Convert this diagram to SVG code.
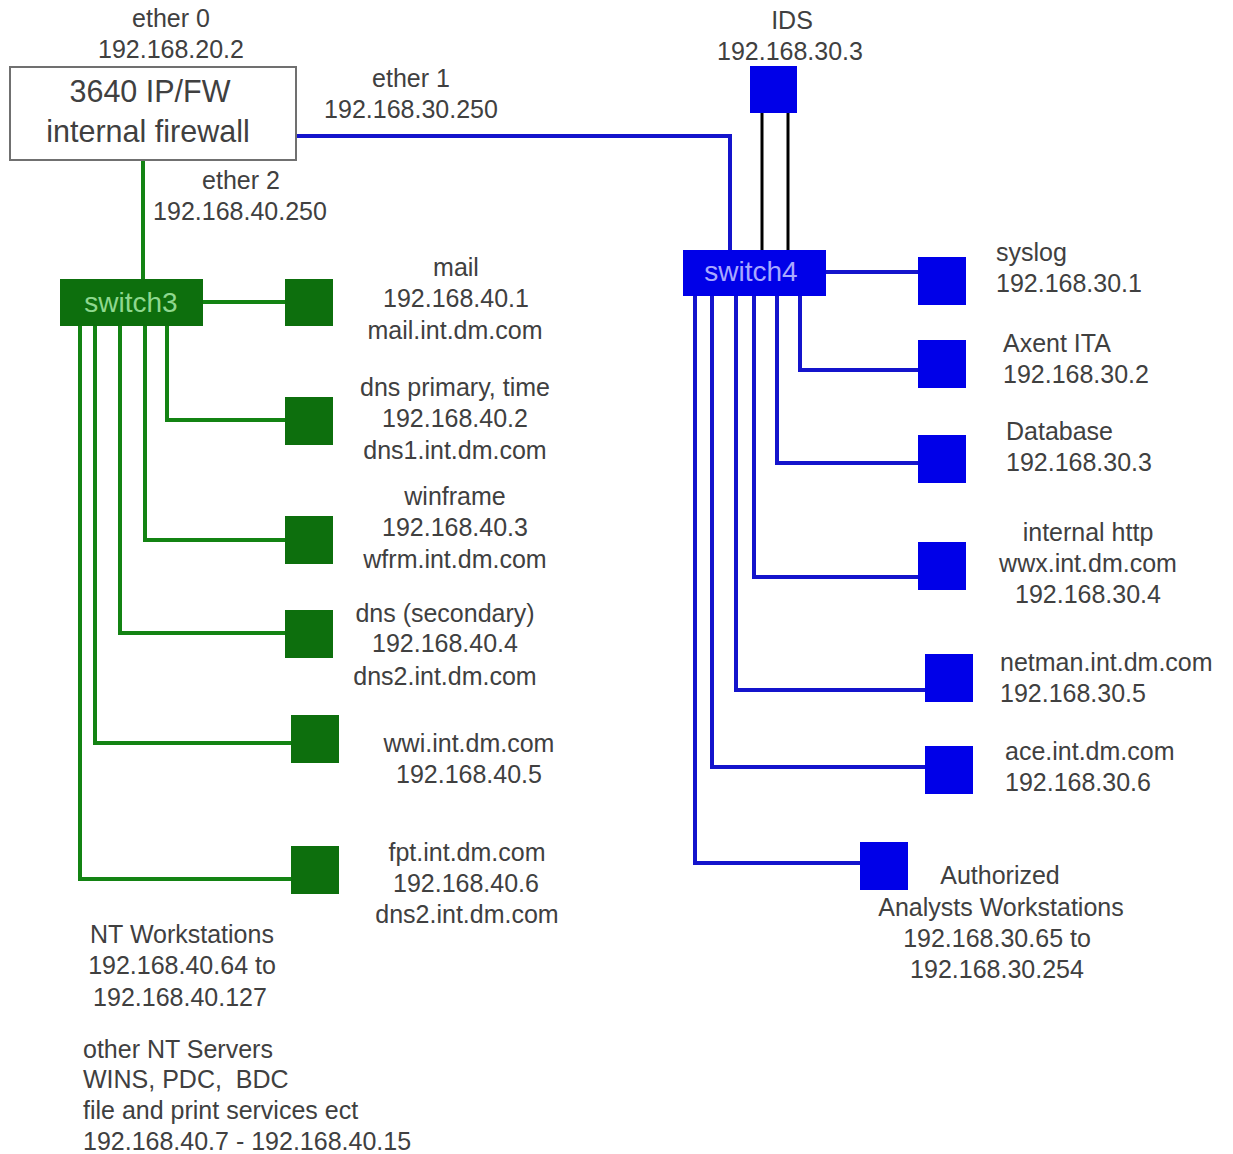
<svg xmlns="http://www.w3.org/2000/svg" width="1233" height="1154" viewBox="0 0 1233 1154">
<style>
  .t{font-family:"Liberation Sans",Arial,sans-serif;font-size:25px;fill:#404040}
  .c{text-anchor:middle}
  .fw{font-family:"Liberation Sans",Arial,sans-serif;font-size:30.5px;fill:#404040;text-anchor:middle}
  .gl{stroke:#138313;stroke-width:4;fill:none}
  .bl{stroke:#1414cc;stroke-width:4;fill:none}
  .kl{stroke:#000;stroke-width:3;fill:none}
  .gn{fill:#0d6f0d}
  .bn{fill:#0000e8}
  .sw{font-family:"Liberation Sans",Arial,sans-serif;font-size:28px;text-anchor:middle}
</style>
<rect width="1233" height="1154" fill="#fff"/>
<g id="connectors">
  <path class="bl" d="M291 136 H730 V252"/>
  <path class="gl" d="M143 160 V280"/>
  <path class="gl" d="M203 302 H286"/>
  <path class="gl" d="M167 326 V420 H286"/>
  <path class="gl" d="M145 326 V540 H286"/>
  <path class="gl" d="M120 326 V633 H286"/>
  <path class="gl" d="M95 326 V743 H292"/>
  <path class="gl" d="M80 326 V879 H292"/>
  <path class="kl" d="M762 112 V251"/>
  <path class="kl" d="M788 112 V251"/>
  <path class="bl" d="M826 272 H919"/>
  <path class="bl" d="M800 296 V370 H919"/>
  <path class="bl" d="M777 296 V463 H919"/>
  <path class="bl" d="M754 296 V577 H919"/>
  <path class="bl" d="M736 296 V690 H926"/>
  <path class="bl" d="M712 296 V767 H926"/>
  <path class="bl" d="M695 296 V863 H861"/>
</g>
<g id="firewall">
  <rect x="10" y="67" width="286" height="93" fill="#fff" stroke="#707070" stroke-width="2"/>
  <text class="fw" x="150" y="102">3640 IP/FW</text>
  <text class="fw" x="148" y="142">internal firewall</text>
  <text class="t c" x="171" y="27">ether 0</text>
  <text class="t c" x="171" y="58">192.168.20.2</text>
  <text class="t c" x="411" y="87">ether 1</text>
  <text class="t c" x="411" y="118">192.168.30.250</text>
  <text class="t c" x="241" y="189">ether 2</text>
  <text class="t c" x="240" y="220">192.168.40.250</text>
</g>
<g id="switch3">
  <rect class="gn" x="60" y="279" width="143" height="47"/>
  <text class="sw" x="131" y="312" fill="#8fd88f">switch3</text>
</g>
<g id="mail">
  <rect class="gn" x="285" y="279" width="48" height="47"/>
  <text class="t c" x="456" y="276">mail</text>
  <text class="t c" x="456" y="307">192.168.40.1</text>
  <text class="t c" x="455" y="339">mail.int.dm.com</text>
</g>
<g id="dns1">
  <rect class="gn" x="285" y="397" width="48" height="48"/>
  <text class="t c" x="455" y="396">dns primary, time</text>
  <text class="t c" x="455" y="427">192.168.40.2</text>
  <text class="t c" x="455" y="459">dns1.int.dm.com</text>
</g>
<g id="winframe">
  <rect class="gn" x="285" y="516" width="48" height="48"/>
  <text class="t c" x="455" y="505">winframe</text>
  <text class="t c" x="455" y="536">192.168.40.3</text>
  <text class="t c" x="455" y="568">wfrm.int.dm.com</text>
</g>
<g id="dns2">
  <rect class="gn" x="285" y="610" width="48" height="48"/>
  <text class="t c" x="445" y="622">dns (secondary)</text>
  <text class="t c" x="445" y="652">192.168.40.4</text>
  <text class="t c" x="445" y="685">dns2.int.dm.com</text>
</g>
<g id="wwi">
  <rect class="gn" x="291" y="715" width="48" height="48"/>
  <text class="t c" x="469" y="752">wwi.int.dm.com</text>
  <text class="t c" x="469" y="783">192.168.40.5</text>
</g>
<g id="fpt">
  <rect class="gn" x="291" y="846" width="48" height="48"/>
  <text class="t c" x="467" y="861">fpt.int.dm.com</text>
  <text class="t c" x="466" y="892">192.168.40.6</text>
  <text class="t c" x="467" y="923">dns2.int.dm.com</text>
</g>
<g id="nt-workstations">
  <text class="t c" x="182" y="943">NT Workstations</text>
  <text class="t c" x="182" y="974">192.168.40.64 to</text>
  <text class="t c" x="180" y="1006">192.168.40.127</text>
</g>
<g id="nt-servers">
  <text class="t" x="83" y="1058">other NT Servers</text>
  <text class="t" x="83" y="1088" xml:space="preserve">WINS, PDC,  BDC</text>
  <text class="t" x="83" y="1119">file and print services ect</text>
  <text class="t" x="83" y="1150">192.168.40.7 - 192.168.40.15</text>
</g>
<g id="ids">
  <rect class="bn" x="750" y="66" width="47" height="47"/>
  <text class="t c" x="792" y="29">IDS</text>
  <text class="t c" x="790" y="60">192.168.30.3</text>
</g>
<g id="switch4">
  <rect class="bn" x="683" y="250" width="143" height="46"/>
  <text class="sw" x="751" y="281" fill="#a8a8ff">switch4</text>
</g>
<g id="syslog">
  <rect class="bn" x="918" y="257" width="48" height="48"/>
  <text class="t" x="996" y="261">syslog</text>
  <text class="t" x="996" y="292">192.168.30.1</text>
</g>
<g id="axent">
  <rect class="bn" x="918" y="340" width="48" height="48"/>
  <text class="t" x="1003" y="352">Axent ITA</text>
  <text class="t" x="1003" y="383">192.168.30.2</text>
</g>
<g id="database">
  <rect class="bn" x="918" y="435" width="48" height="48"/>
  <text class="t" x="1006" y="440">Database</text>
  <text class="t" x="1006" y="471">192.168.30.3</text>
</g>
<g id="http">
  <rect class="bn" x="918" y="542" width="48" height="48"/>
  <text class="t c" x="1088" y="541">internal http</text>
  <text class="t c" x="1088" y="572">wwx.int.dm.com</text>
  <text class="t c" x="1088" y="603">192.168.30.4</text>
</g>
<g id="netman">
  <rect class="bn" x="925" y="654" width="48" height="48"/>
  <text class="t" x="1000" y="671">netman.int.dm.com</text>
  <text class="t" x="1000" y="702">192.168.30.5</text>
</g>
<g id="ace">
  <rect class="bn" x="925" y="746" width="48" height="48"/>
  <text class="t" x="1005" y="760">ace.int.dm.com</text>
  <text class="t" x="1005" y="791">192.168.30.6</text>
</g>
<g id="analysts">
  <rect class="bn" x="860" y="842" width="48" height="48"/>
  <text class="t c" x="1000" y="884">Authorized</text>
  <text class="t c" x="1001" y="916">Analysts Workstations</text>
  <text class="t c" x="997" y="947">192.168.30.65 to</text>
  <text class="t c" x="997" y="978">192.168.30.254</text>
</g>
</svg>
